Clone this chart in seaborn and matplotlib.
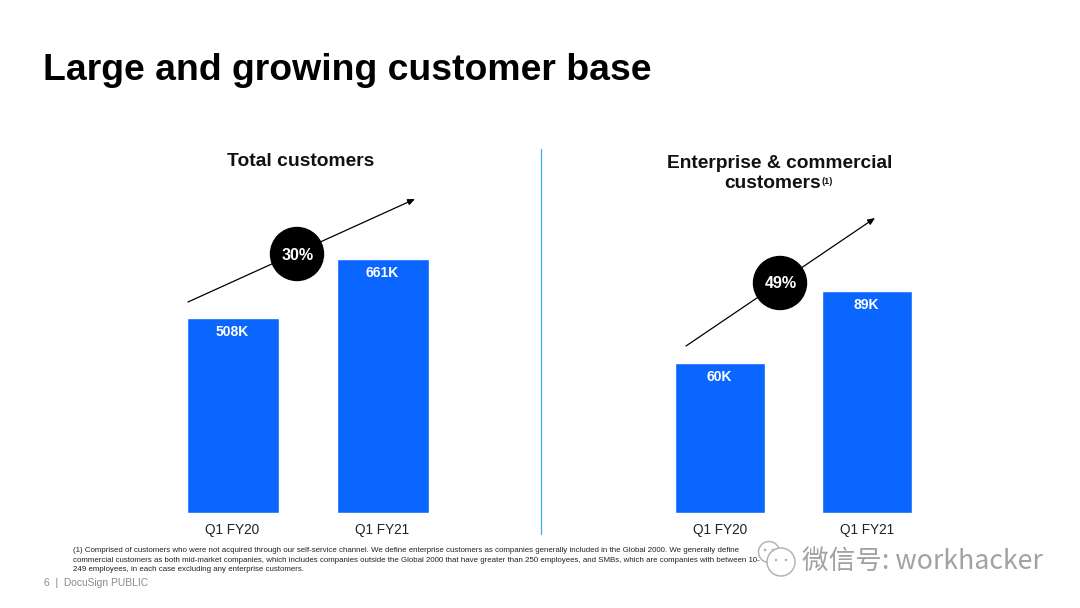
import matplotlib
matplotlib.use("Agg")
import matplotlib.pyplot as plt
from matplotlib.patches import Circle
from matplotlib.transforms import ScaledTranslation
import pandas as pd
import seaborn as sns

sns.set_theme(style="white")
plt.rcParams['font.family'] = ['Liberation Sans', 'Noto Sans CJK SC', 'DejaVu Sans']

quarters = ["Q1 FY20", "Q1 FY21"]
total_customers = [508, 661]
enterprise_customers = [60, 89]
total_growth = "30%"
enterprise_growth = "49%"
page_title = "Large and growing customer base"
total_title = "Total customers"
enterprise_title_1 = "Enterprise & commercial"
enterprise_title_2 = "customers"
footnote = ("(1) Comprised of customers who were not acquired through our self-service channel. We define enterprise customers as companies generally included in the Global 2000. We generally define\n"
            "commercial customers as both mid-market companies, which includes companies outside the Global 2000 that have greater than 250 employees, and SMBs, which are companies with between 10-\n"
            "249 employees, in each case excluding any enterprise customers.")
BLUE = "#0a66ff"

W, H = 1080, 608
fig = plt.figure(figsize=(W/100, H/100), dpi=100, facecolor="white")

def px_axes(x0, y0, x1, y1):
    return fig.add_axes([x0/W, 1-y1/H, (x1-x0)/W, (y1-y0)/H])

def bars(ax, values, ymax, width, label_dx, value_dx):
    df = pd.DataFrame({"quarter": quarters, "value": values})
    sns.barplot(data=df, x="quarter", y="value", color=BLUE, saturation=1, width=width, ax=ax)
    ax.set_xlim(-0.5, 1.5)
    ax.set_ylim(0, ymax)
    ax.set_xlabel(""); ax.set_ylabel(""); ax.set_yticks([])
    ax.tick_params(axis="x", length=0, labelsize=9.8, labelcolor="#222222", pad=7)
    sns.despine(ax=ax, left=True, bottom=True)
    ax.patch.set_alpha(0)
    for lab in ax.get_xticklabels():
        lab.set_transform(lab.get_transform() + ScaledTranslation(label_dx/100, 0, fig.dpi_scale_trans))
    for p, v in zip(ax.patches, values):
        ax.annotate(f"{v}K", (p.get_x()+p.get_width()/2, v), xytext=(value_dx, -14), textcoords="offset pixels",
                    ha="center", va="center", color="white", fontsize=10, fontweight="bold")

ax1 = px_axes(158.2, 150, 458.2, 513)
bars(ax1, total_customers, 363/0.3838, 0.615, -1.2, -0.7)
ax2 = px_axes(646, 150, 941, 513)
bars(ax2, enterprise_customers, 363/2.495, 0.61, 0, -0.5)

ov = fig.add_axes([0, 0, 1, 1], zorder=5)
ov.set_xlim(0, W); ov.set_ylim(H, 0); ov.axis("off"); ov.patch.set_alpha(0)

ov.text(43, 70, page_title, fontsize=26.9, fontweight="bold", color="black", va="center", ha="left")
ov.text(301, 162, total_title, fontsize=13.9, fontweight="bold", color="#111111", ha="center", va="center")
ov.text(779.5, 164, enterprise_title_1, fontsize=13.8, fontweight="bold", color="#111111", ha="center", va="center")
ov.text(821, 183, enterprise_title_2, fontsize=13.8, fontweight="bold", color="#111111", ha="right", va="center")
ov.text(822, 181, "(1)", fontsize=6.5, fontweight="bold", color="#111111", ha="left", va="center")

ov.plot([541, 541], [149, 534], color="#3fa9f5", lw=0.9)

for (a, b, c, t) in [((188, 302), (415, 199), (297, 254), total_growth),
                     ((686, 346), (875, 218), (780, 283), enterprise_growth)]:
    ov.annotate("", xy=b, xytext=a, arrowprops=dict(arrowstyle="-|>,head_length=0.35,head_width=0.15", color="black", lw=0.9, shrinkA=0, shrinkB=0))
    ov.add_patch(Circle(c, 26.5, color="black", zorder=3))
    ov.text(c[0]+1, c[1]+1, t, color="white", fontsize=11.6, fontweight="bold", ha="center", va="center", zorder=4)

ov.text(73, 560, footnote, fontsize=5.66, color="#222222", ha="left", va="center", linespacing=1.55)
ov.text(44, 583, "6  |  DocuSign PUBLIC", fontsize=7.35, color="#8a8a8a", ha="left", va="center")

# watermark
GREY = "#b4b4b4"
ov.add_patch(Circle((769, 552), 10.5, fc="none", ec=GREY, lw=1.1, zorder=6))
ov.add_patch(Circle((781, 562), 14, fc="white", ec=GREY, lw=1.1, zorder=6))
for ex, ey, r in [(765, 550, 1.4), (773, 550, 1.4), (776, 560, 1.3), (786, 560, 1.3)]:
    ov.add_patch(Circle((ex, ey), r, fc=GREY, ec="none", zorder=7))
ov.text(802, 561, "微信号: workhacker", fontsize=19.2, color="#a2a2a2", ha="left", va="center", zorder=6,
        family=['Noto Sans CJK SC', 'DejaVu Sans'])

fig.savefig("out.png", dpi=100, facecolor="white")
